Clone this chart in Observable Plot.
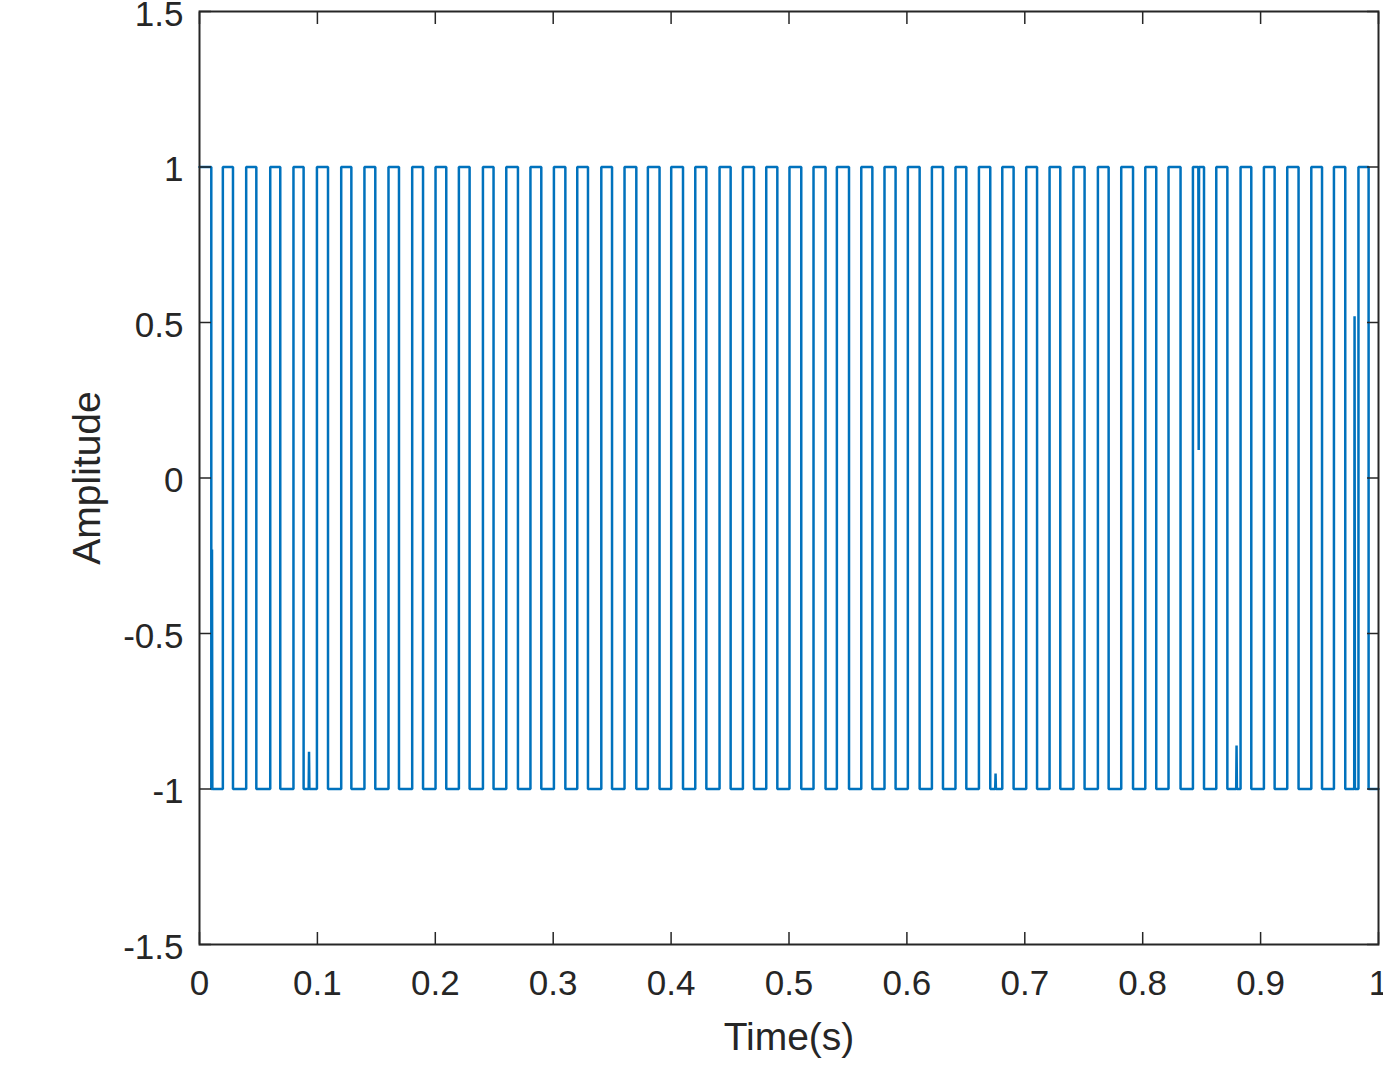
<!DOCTYPE html>
<html>
<head>
<meta charset="utf-8">
<script src="https://cdn.jsdelivr.net/npm/d3@7"></script>
<script src="https://cdn.jsdelivr.net/npm/@observablehq/plot@0.6"></script>
<style>
  html, body { margin: 0; padding: 0; background: #ffffff; }
  #chart { position: absolute; left: 0; top: 0; }
</style>
</head>
<body>
<div id="chart"></div>
<script>
// Square-wave edge times (s)
const fallingEdges = [0.0100, 0.0284, 0.0482, 0.0685, 0.0883, 0.1090, 0.1288, 0.1491, 0.1692, 0.1896,
  0.2093, 0.2291, 0.2494, 0.2701, 0.2899, 0.3103, 0.3295, 0.3499, 0.3705, 0.3902,
  0.4101, 0.4299, 0.4505, 0.4703, 0.4901, 0.5104, 0.5310, 0.5509, 0.5707, 0.5904,
  0.6108, 0.6306, 0.6504, 0.6707, 0.6905, 0.7104, 0.7301, 0.7507, 0.7711, 0.7918,
  0.8115, 0.8321, 0.8520, 0.8718, 0.8921, 0.9119, 0.9322, 0.9521, 0.9718, 0.9916];
const risingEdges = [0.0198, 0.0396, 0.0600, 0.0797, 0.0996, 0.1202, 0.1399, 0.1603, 0.1804, 0.2002,
  0.2200, 0.2404, 0.2602, 0.2807, 0.3006, 0.3204, 0.3408, 0.3605, 0.3803, 0.4001,
  0.4205, 0.4411, 0.4609, 0.4807, 0.5004, 0.5208, 0.5406, 0.5613, 0.5810, 0.6008,
  0.6212, 0.6412, 0.6611, 0.6809, 0.7012, 0.7210, 0.7413, 0.7620, 0.7818, 0.8022,
  0.8219, 0.8426, 0.8624, 0.8830, 0.9028, 0.9226, 0.9430, 0.9622, 0.9830];
const highLevel = 1;
const lowLevel = -1;
const startTime = 0;
const endTime = 1;

// Isolated glitches / spikes
const glitchTimes  = [0.0106, 0.0929, 0.6752, 0.8475, 0.8796, 0.9797];
const glitchValues = [-0.23, -0.88, -0.95, 0.09, -0.86, 0.52];
const glitchBase   = [-1, -1, -1, 1, -1, -1];
const sampleStep = 0.0003;

// Axis ticks
const xTicks = [0, 0.1, 0.2, 0.3, 0.4, 0.5, 0.6, 0.7, 0.8, 0.9, 1];
const yTicks = [-1.5, -1, -0.5, 0, 0.5, 1, 1.5];
const xLabel = "Time(s)";
const yLabel = "Amplitude";

// Build the signal points from the edge lists
const pts = [{t: startTime, v: highLevel}];
for (let i = 0; i < fallingEdges.length; i++) {
  pts.push({t: fallingEdges[i], v: highLevel});
  pts.push({t: fallingEdges[i], v: lowLevel});
  if (i < risingEdges.length) {
    pts.push({t: risingEdges[i], v: lowLevel});
    pts.push({t: risingEdges[i], v: highLevel});
  }
}
pts.push({t: endTime, v: lowLevel});
for (let i = 0; i < glitchTimes.length; i++) {
  pts.push({t: glitchTimes[i] - sampleStep, v: glitchBase[i]});
  pts.push({t: glitchTimes[i], v: glitchValues[i]});
  pts.push({t: glitchTimes[i] + sampleStep, v: glitchBase[i]});
}
const signal = pts.map((d, i) => ({...d, i})).sort((a, b) => a.t - b.t || a.i - b.i);

const ink = "#262626";
const fmt = d => String(d);

const chart = Plot.plot({
  width: 1383,
  height: 1070,
  marginLeft: 199,
  marginRight: 5,
  marginTop: 11,
  marginBottom: 126,
  x: {domain: [0, 1]},
  y: {domain: [-1.5, 1.5]},
  style: {fontFamily: "'Liberation Sans', Arial, Helvetica, sans-serif", fontSize: "35px", color: ink, background: "#ffffff"},
  marks: [
    Plot.line(signal, {x: "t", y: "v", stroke: "#0072BD", strokeWidth: 2.5, strokeLinejoin: "miter"}),
    Plot.frame({stroke: ink, strokeWidth: 2}),
    Plot.axisX(xTicks, {anchor: "bottom", tickSize: 0, tickPadding: 26, tickFormat: fmt, label: null, fill: ink}),
    Plot.axisX(xTicks, {anchor: "bottom", tickSize: -12, fill: "none", label: null, stroke: ink, strokeWidth: 1.5}),
    Plot.axisX(xTicks, {anchor: "top", tickSize: -12, fill: "none", label: null, stroke: ink, strokeWidth: 1.5}),
    Plot.axisY(yTicks, {anchor: "left", tickSize: 0, tickPadding: 16, tickFormat: fmt, label: null, fill: ink, dy: 3}),
    Plot.axisY(yTicks, {anchor: "left", tickSize: -12, fill: "none", label: null, stroke: ink, strokeWidth: 1.5}),
    Plot.axisY(yTicks, {anchor: "right", tickSize: -12, fill: "none", label: null, stroke: ink, strokeWidth: 1.5}),
    Plot.text([xLabel], {frameAnchor: "bottom", dy: 93, lineAnchor: "middle", textAnchor: "middle", fontSize: 39, fill: ink}),
    Plot.text([yLabel], {frameAnchor: "left", dx: -112, rotate: -90, lineAnchor: "middle", textAnchor: "middle", fontSize: 39, fill: ink})
  ]
});
document.getElementById("chart").appendChild(chart);
</script>
</body>
</html>
